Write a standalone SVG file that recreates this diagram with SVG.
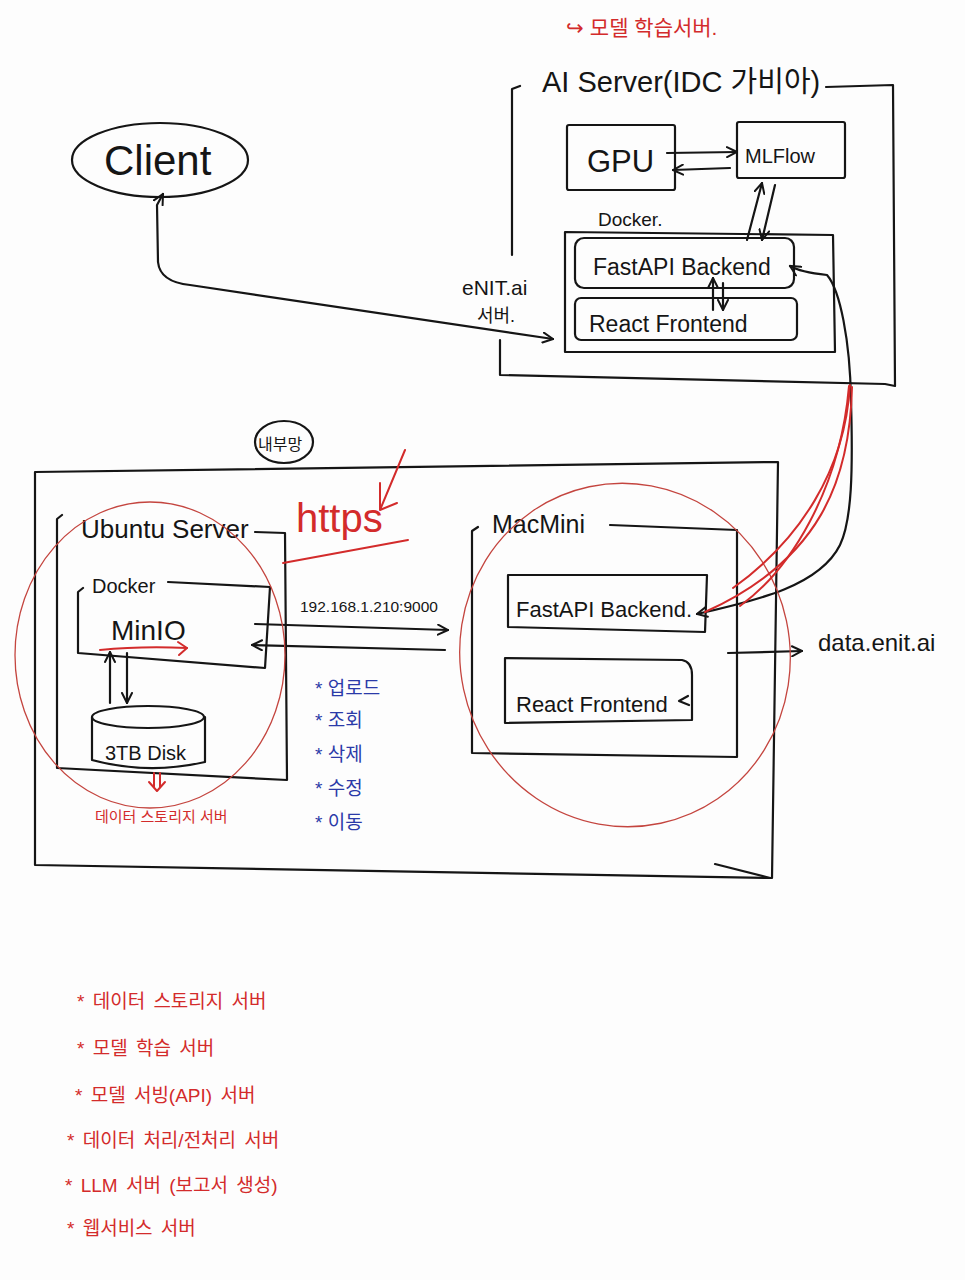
<svg xmlns="http://www.w3.org/2000/svg" width="965" height="1280" viewBox="0 0 965 1280">
<style>
.k{fill:none;stroke:#151515;stroke-width:2.2;stroke-linecap:round;stroke-linejoin:round}
.r{fill:none;stroke:#d32b2b;stroke-width:2;stroke-linecap:round;stroke-linejoin:round}
.rt{fill:none;stroke:#c4453f;stroke-width:1.3;stroke-linecap:round}
.t{font-family:'Liberation Sans','Noto Sans CJK KR',sans-serif;fill:#151515}
.tr{fill:#d32b2b}
.tb{fill:#2b3aa8}
</style>
<defs>
<marker id="ah" viewBox="0 0 12 12" refX="11" refY="6" markerWidth="12" markerHeight="12" markerUnits="userSpaceOnUse" orient="auto-start-reverse"><path d="M1,1 L11,6 L1,11" fill="none" stroke="#151515" stroke-width="2" stroke-linecap="round"/></marker>
</defs>
<rect width="965" height="1280" fill="#fdfdfd"/>

<g id="client">
<ellipse class="k" cx="160" cy="160" rx="88" ry="37"/>
<text class="t" x="104" y="175" font-size="42">Client</text>
</g>

<g id="ai-server">
<path class="k" d="M520 86 L512 89 L512 255"/>
<path class="k" d="M500 340 L500 375 L885 384 L895 386 L893 85 L826 87"/>
<text class="t" x="542" y="92" font-size="29">AI Server(IDC 가비아)</text>
<text class="t tr" x="566" y="35" font-size="21">↪ 모델 학습서버.</text>
<text class="t" x="462" y="295" font-size="21">eNIT.ai</text>
<text class="t" x="477" y="322" font-size="18">서버.</text>
</g>

<g id="gpu">
<rect class="k" x="567" y="125" width="108" height="65" rx="2"/>
<text class="t" x="587" y="172" font-size="31">GPU</text>
</g>

<g id="mlflow">
<rect class="k" x="737" y="122" width="108" height="56" rx="2"/>
<text class="t" x="745" y="163" font-size="20">MLFlow</text>
</g>

<g id="ai-docker">
<path class="k" d="M565 232 L833 235 L835 352 L565 352 Z"/>
<text class="t" x="598" y="226" font-size="19">Docker.</text>
</g>

<g id="ai-backend">
<rect class="k" x="575" y="238" width="219" height="50" rx="9"/>
<text class="t" x="593" y="275" font-size="23">FastAPI  Backend</text>
</g>

<g id="ai-frontend">
<rect class="k" x="575" y="298" width="222" height="42" rx="6"/>
<text class="t" x="589" y="332" font-size="23">React  Frontend</text>
</g>

<g id="internal-net">
<path class="k" d="M35 472 L778 462 L772 878 L35 865 Z"/>
<path class="k" d="M715 864 L770 878"/>
<ellipse class="k" cx="284" cy="442" rx="29" ry="21"/>
<text class="t" x="258" y="450" font-size="16">내부망</text>
</g>

<g id="ubuntu">
<path class="k" d="M62 515 L57 519 L57 768 L287 780 L285 533 L255 532"/>
<text class="t" x="81" y="538" font-size="26">Ubuntu Server</text>
</g>

<g id="minio">
<path class="k" d="M83 588 L78 592 L78 653 L265 668 L270 587 L168 582"/>
<text class="t" x="92" y="593" font-size="20">Docker</text>
<text class="t" x="111" y="640" font-size="28">MinIO</text>
</g>

<g id="disk">
<path class="k" d="M92 717 L92 760 Q148 775 205 762 L205 717"/>
<ellipse class="k" cx="148" cy="717" rx="56" ry="11"/>
<text class="t" x="105" y="760" font-size="20">3TB Disk</text>
</g>

<g id="macmini">
<path class="k" d="M478 527 L472 531 L472 753 L737 757 L737 530 L610 525"/>
<text class="t" x="492" y="533" font-size="25">MacMini</text>
</g>

<g id="mac-backend">
<path class="k" d="M508 575 L707 575 L705 632 L508 627 Z"/>
<text class="t" x="516" y="617" font-size="22">FastAPI  Backend.</text>
</g>

<g id="mac-frontend">
<path class="k" d="M505 658 L682 660 Q692 662 692 675 L692 720 L505 723 Z"/>
<text class="t" x="516" y="712" font-size="22">React  Frontend</text>
<path class="k" d="M688 696 L679 701 L689 705"/>
</g>

<g id="data-enit">
<text class="t" x="818" y="651" font-size="24">data.enit.ai</text>
</g>

<g id="connectors">
<path class="k" marker-start="url(#ah)" marker-end="url(#ah)" d="M163 194 L157 205 L158 262 Q160 282 190 285 L553 339"/>
<path class="k" marker-end="url(#ah)" d="M667 153 L737 152"/>
<path class="k" marker-end="url(#ah)" d="M730 168 L673 170"/>
<path class="k" marker-end="url(#ah)" d="M747 240 L762 183"/>
<path class="k" marker-end="url(#ah)" d="M775 185 L762 240"/>
<path class="k" marker-end="url(#ah)" d="M713 310 L713 278"/>
<path class="k" marker-end="url(#ah)" d="M723 283 L723 310"/>
<path class="k" marker-start="url(#ah)" marker-end="url(#ah)" d="M790 266 Q800 272 827 275 C840 290 850 340 851 400 C853 470 852 520 840 545 C820 585 760 600 697 614"/>
<path class="k" marker-end="url(#ah)" d="M255 624 L448 630"/>
<path class="k" marker-end="url(#ah)" d="M445 650 L252 645"/>
<text class="t" x="300" y="612" font-size="15.5">192.168.1.210:9000</text>
<path class="k" marker-start="url(#ah)" d="M110 652 L110 703"/>
<path class="k" marker-end="url(#ah)" d="M127 653 L127 703"/>
<path class="k" marker-end="url(#ah)" d="M728 653 L802 651"/>
</g>

<g id="annotations">
<ellipse class="rt" cx="150" cy="655" rx="135" ry="153"/>
<ellipse class="rt" cx="625" cy="655" rx="165" ry="172" transform="rotate(-12 625 655)"/>
<path class="r" stroke-width="1.5" d="M850 385 C845 470 800 540 733 588"/>
<path class="r" stroke-width="1.5" d="M852 387 C850 480 820 560 705 612"/>
<path class="r" stroke-width="1.5" d="M849 386 C840 490 790 570 740 606"/>
<path class="r" d="M100 650 Q140 646 187 648"/>
<path class="r" d="M178 642 L187 648 L179 655"/>
<path class="r" d="M154 773 L154 787 M160 773 L160 787 M149 782 L157 791 L165 782"/>
<text class="t tr" x="95" y="822" font-size="15">데이터 스토리지 서버</text>
<text class="t tr" x="296" y="532" font-size="40">https</text>
<path class="r" d="M283 563 L408 540"/>
<path class="r" d="M405 450 L380 510 M380 483 L380 510 L397 503"/>
<text class="t tb" x="315" y="695" font-size="19">* 업로드</text>
<text class="t tb" x="315" y="727" font-size="19">* 조회</text>
<text class="t tb" x="315" y="761" font-size="19">* 삭제</text>
<text class="t tb" x="315" y="795" font-size="19">* 수정</text>
<text class="t tb" x="315" y="829" font-size="19">* 이동</text>
</g>

<g id="legend">
<text class="t tr" x="77" y="1008" font-size="19" word-spacing="3">* 데이터 스토리지 서버</text>
<text class="t tr" x="77" y="1055" font-size="19" word-spacing="3">* 모델 학습 서버</text>
<text class="t tr" x="75" y="1102" font-size="19" word-spacing="3">* 모델 서빙(API) 서버</text>
<text class="t tr" x="67" y="1147" font-size="19" word-spacing="3">* 데이터 처리/전처리 서버</text>
<text class="t tr" x="65" y="1192" font-size="19" word-spacing="3">* LLM 서버 (보고서 생성)</text>
<text class="t tr" x="67" y="1235" font-size="19" word-spacing="3">* 웹서비스 서버</text>
</g>
</svg>
